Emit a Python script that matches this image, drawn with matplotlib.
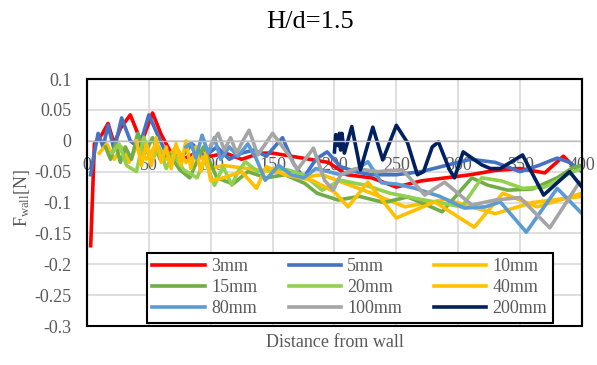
import matplotlib
matplotlib.use("Agg")
import matplotlib.pyplot as plt
from matplotlib.patches import Rectangle

plt.rcParams["font.family"] = ["Liberation Serif", "DejaVu Serif"]
plt.rcParams["mathtext.fontset"] = "custom"
plt.rcParams["mathtext.rm"] = "Liberation Serif"
plt.rcParams["mathtext.it"] = "Liberation Serif:italic"

title = "H/d=1.5"
xlabel = "Distance from wall"
xticks = [0, 50, 100, 150, 200, 250, 300, 350, 400]
yticks = [0.1, 0.05, 0, -0.05, -0.1, -0.15, -0.2, -0.25, -0.3]
ytick_labels = ["0.1", "0.05", "0", "-0.05", "-0.1", "-0.15", "-0.2", "-0.25", "-0.3"]

# wall force per particle diameter
x_3 = [3, 6, 12, 17, 22, 27, 35, 44, 53, 60, 68, 77, 88, 100, 112, 125, 140, 150,
       165, 180, 195, 210, 230, 250, 270, 290, 310, 330, 350, 370, 385, 395, 400]
f_3 = [-0.17, -0.005, 0.01, 0.028, -0.005, 0.02, 0.042, -0.003, 0.045, 0.01, -0.02,
       -0.03, -0.02, -0.025, -0.02, -0.03, -0.02, -0.02, -0.025, -0.03, -0.035, -0.055,
       -0.06, -0.075, -0.065, -0.06, -0.055, -0.048, -0.045, -0.052, -0.025, -0.045, -0.04]

x_5 = [3, 5, 9, 13, 17, 22, 28, 35, 42, 50, 57, 65, 75, 85, 95, 105, 115, 125, 135,
       145, 158, 167, 175, 185, 194, 205, 217, 230, 250, 270, 290, 310, 330, 350, 365,
       380, 390, 400]
f_5 = [-0.055, -0.03, 0.012, -0.01, 0.025, -0.015, 0.037, 0.0, -0.012, 0.042, 0.01,
       -0.025, -0.03, -0.005, -0.025, -0.01, -0.03, -0.02, -0.015, -0.025, 0.005, -0.037,
       -0.06, -0.03, -0.018, -0.042, -0.05, -0.055, -0.055, -0.05, -0.04, -0.03, -0.035,
       -0.05, -0.04, -0.028, -0.035, -0.05]

x_10 = [10, 16, 22, 28, 34, 40, 48, 56, 64, 72, 80, 90, 100, 110, 130, 150, 170, 190,
        210, 230, 257, 290, 330, 360, 400]
f_10 = [-0.02, -0.005, -0.03, -0.01, -0.035, -0.01, -0.03, -0.005, -0.03, -0.01, -0.035,
        -0.02, -0.045, -0.04, -0.045, -0.05, -0.06, -0.055, -0.07, -0.085, -0.107, -0.095,
        -0.118, -0.1, -0.09]

x_15 = [15, 19, 23, 27, 31, 36, 41, 47, 53, 59, 66, 75, 83, 94, 105, 118, 130, 145,
        160, 176, 186, 203, 220, 240, 259, 270, 287, 311, 324, 340, 360, 380, 393, 400]
f_15 = [-0.01, -0.03, -0.005, -0.035, -0.01, -0.03, 0.012, -0.02, 0.005, -0.03, -0.02,
        -0.047, -0.06, -0.01, -0.06, -0.07, -0.05, -0.06, -0.055, -0.069, -0.085, -0.096,
        -0.09, -0.1, -0.091, -0.1, -0.115, -0.06, -0.072, -0.08, -0.078, -0.06, -0.043, -0.04]

x_20 = [20, 26, 32, 40, 46, 52, 58, 64, 70, 78, 89, 95, 103, 110, 117, 122, 128, 138,
        150, 162, 175, 190, 205, 225, 245, 270, 303, 319, 335, 352, 370, 393, 400]
f_20 = [-0.02, -0.005, -0.04, -0.05, 0.006, -0.035, -0.01, -0.045, -0.02, -0.047,
        -0.06, -0.03, -0.072, -0.042, -0.072, -0.05, -0.034, -0.05, -0.045, -0.047, -0.055,
        -0.08, -0.064, -0.072, -0.085, -0.095, -0.107, -0.06, -0.065, -0.077, -0.075,
        -0.05, -0.045]

x_40 = [40, 44, 48, 52, 56, 60, 64, 68, 72, 76, 80, 84, 88, 92, 96, 100, 110, 125,
        137, 145, 160, 182, 200, 211, 227, 250, 281, 313, 336, 364, 400]
f_40 = [0.0, -0.04, -0.005, -0.04, 0.005, -0.035, -0.01, -0.045, -0.005, -0.04, 0.0,
        -0.045, -0.01, -0.05, -0.02, -0.065, -0.06, -0.05, -0.077, -0.042, -0.055, -0.064,
        -0.083, -0.107, -0.067, -0.125, -0.099, -0.14, -0.085, -0.107, -0.085]

x_80 = [80, 84, 88, 93, 98, 103, 108, 115, 122, 130, 137, 144, 155, 165, 175, 185,
        195, 205, 215, 227, 238, 250, 265, 285, 305, 322, 334, 355, 380, 400]
f_80 = [-0.01, -0.004, -0.028, 0.009, -0.02, 0.005, -0.03, -0.01, -0.025, -0.005,
        -0.03, -0.064, -0.04, -0.055, -0.06, -0.045, -0.05, -0.055, -0.05, -0.034,
        -0.068, -0.07, -0.077, -0.09, -0.109, -0.107, -0.099, -0.148, -0.077, -0.118]

x_100 = [100, 106, 111, 116, 121, 126, 131, 138, 150, 163, 170, 183, 192, 199, 205,
         217, 235, 255, 273, 289, 311, 330, 350, 374, 398, 400]
f_100 = [-0.007, 0.012, -0.015, 0.005, -0.02, 0.0, 0.017, -0.023, 0.012, -0.023,
         -0.047, -0.012, -0.064, -0.08, -0.055, -0.045, -0.05, -0.047, -0.088, -0.067,
         -0.104, -0.096, -0.092, -0.141, -0.067, -0.07]

x_200 = [200, 201, 203, 204, 205, 206, 208, 214, 221, 231, 239, 250, 259, 267, 272,
         279, 284, 293, 297, 304, 319, 326, 334, 352, 369, 390, 400]
f_200 = [-0.018, 0.01, -0.008, 0.012, -0.015, 0.012, -0.02, 0.023, -0.047, 0.022,
         -0.031, 0.025, -0.003, -0.055, -0.05, -0.01, -0.002, -0.047, -0.06, -0.018,
         -0.039, -0.045, -0.045, -0.023, -0.088, -0.05, -0.075]

series = [
    ("3mm", x_3, f_3, "#FF0000"),
    ("5mm", x_5, f_5, "#4472C4"),
    ("10mm", x_10, f_10, "#FFC000"),
    ("15mm", x_15, f_15, "#70AD47"),
    ("20mm", x_20, f_20, "#92D050"),
    ("40mm", x_40, f_40, "#FFC000"),
    ("80mm", x_80, f_80, "#5B9BD5"),
    ("100mm", x_100, f_100, "#A5A5A5"),
    ("200mm", x_200, f_200, "#002060"),
]

fig = plt.figure(figsize=(5.97, 3.65), dpi=100)
ax = fig.add_axes([0.1457, 0.1068, 0.8291, 0.6767])

handles = {}
for name, xs, fs, color in series:
    line, = ax.plot(xs, fs, color=color, lw=2.6, label=name, solid_joinstyle="round")
    handles[name] = line

ax.set_xlim(0, 400)
ax.set_ylim(-0.3, 0.1)
ax.set_xticks(xticks)
ax.set_yticks(yticks)
ax.set_yticklabels(ytick_labels)
ax.grid(True, color="#D9D9D9", lw=1.2)
ax.set_axisbelow(True)

# x axis crosses at zero, plot area keeps a black frame
ax.spines["bottom"].set_position(("data", 0))
ax.spines["bottom"].set_color("#BFBFBF")
ax.spines["bottom"].set_linewidth(1.0)
for side in ["top", "left", "right"]:
    ax.spines[side].set_color("black")
    ax.spines[side].set_linewidth(1.5)
ax.add_patch(Rectangle((0, 0), 1, 1, transform=ax.transAxes, fill=False,
                       ec="black", lw=1.5, clip_on=False, zorder=3))

ax.tick_params(axis="x", length=0, pad=12, labelsize=13, labelcolor="#595959")
ax.tick_params(axis="y", length=0, pad=11, labelsize=13, labelcolor="#595959")

fig.text(0.52, 0.94, title, ha="center", va="center", fontsize=19)
fig.text(0.561, 0.063, xlabel, ha="center", va="center", fontsize=13, color="#595959")
fig.text(0.037, 0.457, r"F$_{\mathrm{wall}}$[N]", ha="center", va="center",
         rotation=90, fontsize=13, color="#595959")

# legend filled column by column
order = ["3mm", "15mm", "80mm", "5mm", "20mm", "100mm", "10mm", "40mm", "200mm"]
leg = ax.legend([handles[n] for n in order], order, ncol=3, loc="lower left",
                bbox_to_anchor=(0.121, 0.013), fontsize=13, frameon=True,
                fancybox=False, edgecolor="black", framealpha=1,
                handlelength=2.9, handletextpad=0.35, columnspacing=1.75,
                labelspacing=0.22, borderpad=0.3, borderaxespad=0)
leg.get_frame().set_linewidth(1.5)
for t in leg.get_texts():
    t.set_color("#595959")

fig.savefig("out.png", dpi=100)
